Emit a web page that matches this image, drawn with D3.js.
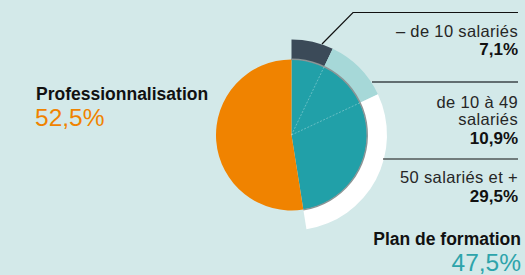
<!DOCTYPE html>
<html>
<head>
<meta charset="utf-8">
<script src="https://cdn.jsdelivr.net/npm/d3@7"></script>
<style>
  body { margin: 0; background: #d3e9e9; }
  svg { display: block; font-family: "Liberation Sans", Arial, sans-serif; }
</style>
</head>
<body>
<div id="chart"></div>
<script>
// main split
let mainLabels = ["Plan de formation", "Professionnalisation"];
let mainValues = [47.5, 52.5];
let mainColors = ["#21a0a8", "#f08300"];

// breakdown of "Plan de formation" by company size
let sizeLabels = [["– de 10 salariés"], ["de 10 à 49", "salariés"], ["50 salariés et +"]];
let sizeValues = [7.1, 10.9, 29.5];
let ringColors = ["#3b4a58", "#a6d8d8", "#ffffff"];

let fmt = v => d3.format(".1f")(v).replace(".", ",") + "%";

let width = 525, height = 275;
let cx = 291.5, cy = 135, r = 75.5, rOut = 95.5;

let svg = d3.select("#chart").append("svg")
    .attr("width", width).attr("height", height);

let g = svg.append("g").attr("transform", "translate(" + cx + "," + cy + ")");

let pie = d3.pie().sort(null).value(d => d);

// outer ring (only across the "Plan de formation" part)
let ringData = pie(sizeValues.concat([mainValues[1]]));
let ringArc = d3.arc().innerRadius(r - 1).outerRadius(rOut);
g.selectAll(".ring")
    .data(ringData.slice(0, 3))
    .enter().append("path")
    .attr("d", ringArc)
    .style("fill", (d, i) => ringColors[i]);

// main pie
let mainArc = d3.arc().innerRadius(0).outerRadius(r);
g.selectAll(".slice")
    .data(pie(mainValues))
    .enter().append("path")
    .attr("d", mainArc)
    .style("fill", (d, i) => mainColors[i]);

// grey rim on the teal part
let planArc = pie(mainValues)[0];
g.append("path")
    .attr("d", d3.arc().innerRadius(r - 0.5).outerRadius(r + 1)(planArc))
    .style("fill", "#8a9596");

// faint separators inside the teal part
ringData.slice(1, 3).forEach(d => {
    g.append("line")
        .attr("x1", 0).attr("y1", 0)
        .attr("x2", r * Math.sin(d.startAngle))
        .attr("y2", -r * Math.cos(d.startAngle))
        .style("stroke", "#ffffff")
        .style("stroke-opacity", 0.45)
        .style("stroke-width", 0.7)
        .style("stroke-dasharray", "2,1.5");
});

// leader lines
let xr = 518;
let leaders = [
    [[322, 44], [353, 12.5], [xr, 12.5]],
    [[372, 82], [xr, 82]],
    [[383, 159], [xr, 159]]
];
let line = d3.line();
leaders.forEach((pts, i) => {
    svg.append("path")
        .attr("d", line(pts))
        .style("fill", "none")
        .style("stroke", i == 1 ? "#3d4548" : "#111")
        .style("stroke-width", i == 1 ? 1.6 : 1.2);
});

// size labels
let labelBase = [37, 108, 183];
let pctBase = [55, 144, 202];
sizeLabels.forEach((lines, i) => {
    let t = svg.append("text")
        .attr("text-anchor", "end")
        .style("fill", "#262626");
    lines.forEach((s, j) => {
        t.append("tspan")
            .attr("x", xr).attr("y", labelBase[i] + j * 16.5)
            .style("font-size", "16.5px")
            .style("letter-spacing", "0.35px")
            .text(s);
    });
    t.append("tspan")
        .attr("x", xr).attr("y", pctBase[i])
        .style("font-size", "17px")
        .style("font-weight", "bold")
        .style("letter-spacing", "0")
        .style("fill", "#111")
        .text(fmt(sizeValues[i]));
});

// main labels
svg.append("text")
    .attr("x", 36).attr("y", 100)
    .style("font-size", "17.5px").style("font-weight", "bold").style("fill", "#111")
    .text(mainLabels[1]);
svg.append("text")
    .attr("x", 35).attr("y", 126)
    .style("font-size", "24.5px").style("fill", mainColors[1])
    .text(fmt(mainValues[1]));

svg.append("text")
    .attr("x", xr + 3).attr("y", 244.5).attr("text-anchor", "end")
    .style("font-size", "17.5px").style("font-weight", "bold").style("fill", "#111")
    .text(mainLabels[0]);
svg.append("text")
    .attr("x", xr + 3).attr("y", 270.5).attr("text-anchor", "end")
    .style("font-size", "24.5px").style("fill", "#2ea4ab")
    .text(fmt(mainValues[0]));
</script>
</body>
</html>
